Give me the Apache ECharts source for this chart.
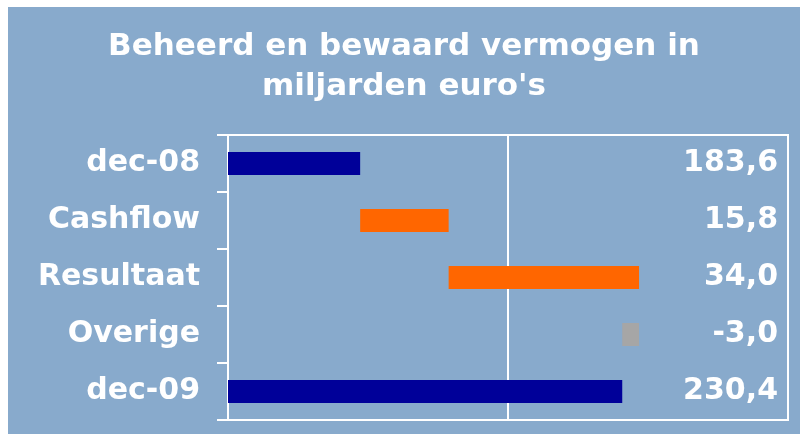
<!DOCTYPE html>
<html>
<head>
<meta charset="utf-8">
<script src="https://cdn.jsdelivr.net/npm/echarts@6/dist/echarts.min.js"></script>
<style>
html,body{margin:0;padding:0;background:#ffffff;}
#wrap{position:absolute;left:8px;top:7px;width:792px;height:427px;background:#88AACC;}
#chart{width:792px;height:427px;}
</style>
</head>
<body>
<div id="wrap"><div id="chart"></div></div>
<script>
var titleText = "Beheerd en bewaard vermogen in\nmiljarden euro's";
var categories = ['dec-08', 'Cashflow', 'Resultaat', 'Overige', 'dec-09'];
var changes = [183.6, 15.8, 34.0, -3.0, 230.4];
var isTotal = [true, false, false, false, true];
var barColors = ['#000099', '#FF6600', '#FF6600', '#A6A6A6', '#000099'];
var axisMin = 160, axisMax = 260, axisStep = 50;

// waterfall bases
var baseData = [], visData = [], running = 0;
for (var i = 0; i < changes.length; i++) {
  var v = changes[i];
  if (isTotal[i]) {
    baseData.push(0);
    visData.push({value: v, itemStyle: {color: barColors[i]}});
    running = v;
  } else {
    var lo = v >= 0 ? running : running + v;
    baseData.push(+lo.toFixed(1));
    visData.push({value: Math.abs(v), itemStyle: {color: barColors[i]}});
    running = +(running + v).toFixed(1);
  }
}
var valueLabels = changes.map(function (v, i) {
  var s = v.toFixed(1).replace('.', ',');
  if (i === changes.length - 1) return {value: s, textStyle: {padding: [0, 0, 10, 0]}};
  return s;
});

var chart = echarts.init(document.getElementById('chart'), null, {renderer: 'canvas'});
chart.setOption({
  backgroundColor: 'transparent',
  animation: false,
  title: {
    text: titleText,
    left: 'center',
    top: 15,
    textStyle: {color: '#ffffff', fontFamily: 'DejaVu Sans', fontWeight: 'bold', fontSize: 31, lineHeight: 40}
  },
  grid: {left: 220, right: 12, top: 128, bottom: 14, show: true, borderColor: '#ffffff', borderWidth: 2, backgroundColor: 'transparent'},
  xAxis: {
    type: 'value', min: axisMin, max: axisMax, interval: axisStep,
    axisLine: {show: false}, axisTick: {show: false}, axisLabel: {show: false},
    splitLine: {show: true, lineStyle: {color: '#ffffff', width: 2}}
  },
  yAxis: [{
    type: 'category', data: categories, inverse: true,
    axisLine: {show: true, lineStyle: {color: '#ffffff', width: 2}},
    axisTick: {show: true, length: 11, lineStyle: {color: '#ffffff', width: 2}},
    axisLabel: {color: '#ffffff', fontFamily: 'DejaVu Sans', fontWeight: 'bold', fontSize: 30, margin: 28}
  }, {
    type: 'category', data: valueLabels, inverse: true, position: 'right',
    axisLine: {show: false}, axisTick: {show: false},
    axisLabel: {inside: true, color: '#ffffff', fontFamily: 'DejaVu Sans', fontWeight: 'bold', fontSize: 30, margin: 10}
  }],
  series: [{
    type: 'bar', stack: 'w', yAxisIndex: 0, data: baseData, barWidth: 23,
    itemStyle: {color: 'transparent'}, silent: true
  }, {
    type: 'bar', stack: 'w', yAxisIndex: 0, data: visData, barWidth: 23
  }]
});
</script>
</body>
</html>
